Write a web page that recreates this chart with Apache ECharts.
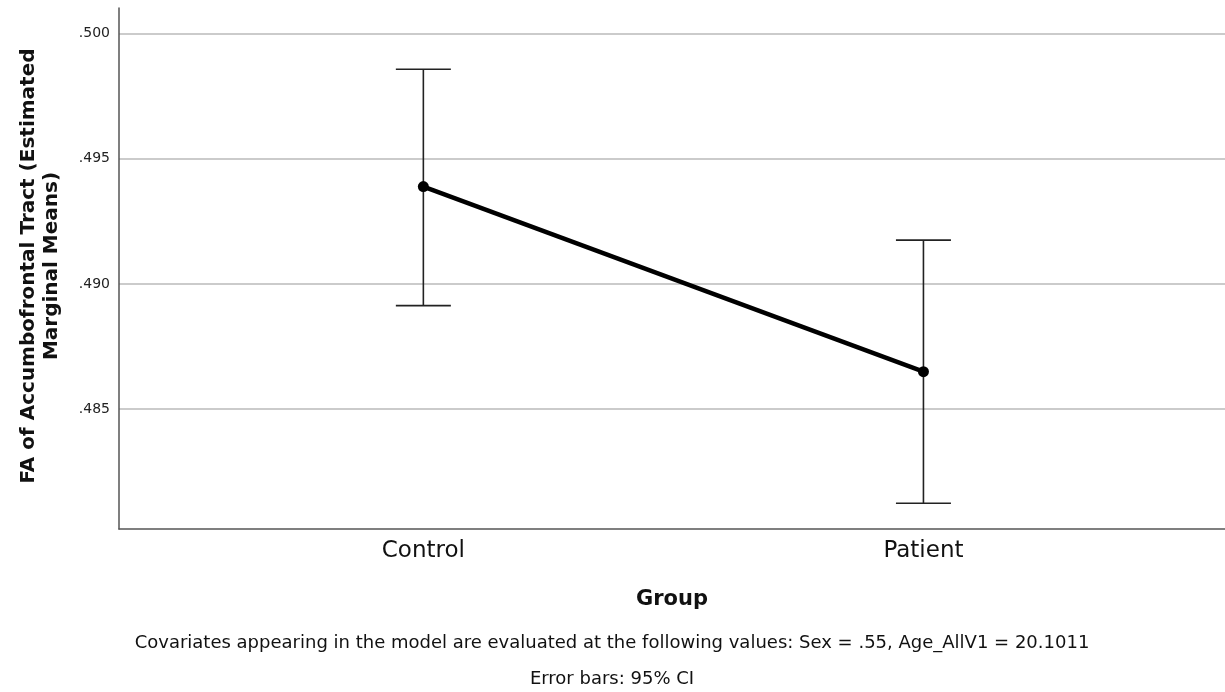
<!DOCTYPE html>
<html>
<head>
<meta charset="utf-8">
<script src="https://cdn.jsdelivr.net/npm/echarts@6/dist/echarts.min.js"></script>
<style>
  html, body { margin: 0; padding: 0; background: #fff; }
  #chart { width: 1225px; height: 692px; }
</style>
</head>
<body>
<div id="chart"></div>
<script>
// ============================================================================
// Data
// ============================================================================

const groups = ['Control', 'Patient']
const groupPos = [0, 1]
const means = [0.49389, 0.48649]
const ciLower = [0.48913, 0.48123]
const ciUpper = [0.49858, 0.49175]
const yTicks = [0.485, 0.490, 0.495, 0.500]

const footnote1 = 'Covariates appearing in the model are evaluated at the following values: Sex = .55, Age_AllV1 = 20.1011'
const footnote2 = 'Error bars: 95% CI'

// ============================================================================
// Chart
// ============================================================================

const chart = echarts.init(document.getElementById('chart'))
const font = '"DejaVu Sans", "Open Sans", sans-serif'

function renderErrorBar(params, api) {
    const x = api.value(0)
    const top = api.coord([x, api.value(2)])
    const bottom = api.coord([x, api.value(1)])
    const half = 27.5
    const style = { stroke: '#222', lineWidth: 1.6 }
    return {
        type: 'group',
        children: [
            { type: 'line', shape: { x1: top[0], y1: top[1], x2: bottom[0], y2: bottom[1] }, style: style },
            { type: 'line', shape: { x1: top[0] - half, y1: top[1], x2: top[0] + half, y2: top[1] }, style: style },
            { type: 'line', shape: { x1: bottom[0] - half, y1: bottom[1], x2: bottom[0] + half, y2: bottom[1] }, style: style },
        ]
    }
}

const option = {
    animation: false,
    backgroundColor: '#fff',
    grid: { left: 119, right: 0, top: 8, bottom: 163 },
    xAxis: {
        type: 'value',
        min: -0.6086,
        max: 1.603,
        name: 'Group',
        nameLocation: 'middle',
        nameGap: 60,
        nameTextStyle: { fontFamily: font, fontSize: 21, fontWeight: 'bold', color: '#111' },
        axisLine: { show: true, onZero: false, lineStyle: { color: '#555', width: 1.5 } },
        axisTick: { show: false, customValues: groupPos },
        splitLine: { show: false },
        axisLabel: {
            customValues: groupPos,
            formatter: v => groups[Math.round(v)],
            fontFamily: font,
            fontSize: 23,
            color: '#111',
            margin: 11
        }
    },
    yAxis: {
        type: 'value',
        min: 0.4802,
        max: 0.50103,
        axisLine: { show: true, onZero: false, lineStyle: { color: '#555', width: 1.5 } },
        axisTick: { show: false, customValues: yTicks },
        splitLine: { show: true, lineStyle: { color: '#cbcbcb', width: 2 } },
        axisLabel: {
            customValues: yTicks,
            formatter: v => v.toFixed(3).replace(/^0/, ''),
            fontFamily: font,
            fontSize: 14,
            color: '#222',
            margin: 9
        }
    },
    graphic: [
        {
            type: 'text',
            x: 40, y: 266,
            rotation: Math.PI / 2,
            style: {
                text: 'FA of Accumbofrontal Tract (Estimated\nMarginal Means)',
                fontFamily: font, fontSize: 20, fontWeight: 'bold', fill: '#111',
                align: 'center', verticalAlign: 'middle', lineHeight: 23
            }
        },
        {
            type: 'text',
            x: 612, y: 643,
            style: {
                text: footnote1, fontFamily: font, fontSize: 18, fill: '#111',
                align: 'center', verticalAlign: 'middle'
            }
        },
        {
            type: 'text',
            x: 612, y: 679,
            style: {
                text: footnote2, fontFamily: font, fontSize: 18, fill: '#111',
                align: 'center', verticalAlign: 'middle'
            }
        }
    ],
    series: [
        {
            type: 'custom',
            renderItem: renderErrorBar,
            data: groupPos.map((x, i) => [x, ciLower[i], ciUpper[i]]),
            z: 2
        },
        {
            type: 'line',
            data: groupPos.map((x, i) => [x, means[i]]),
            symbol: 'circle',
            symbolSize: 11,
            itemStyle: { color: '#000' },
            lineStyle: { color: '#000', width: 4.5 },
            z: 3
        }
    ]
}

chart.setOption(option)
</script>
</body>
</html>
